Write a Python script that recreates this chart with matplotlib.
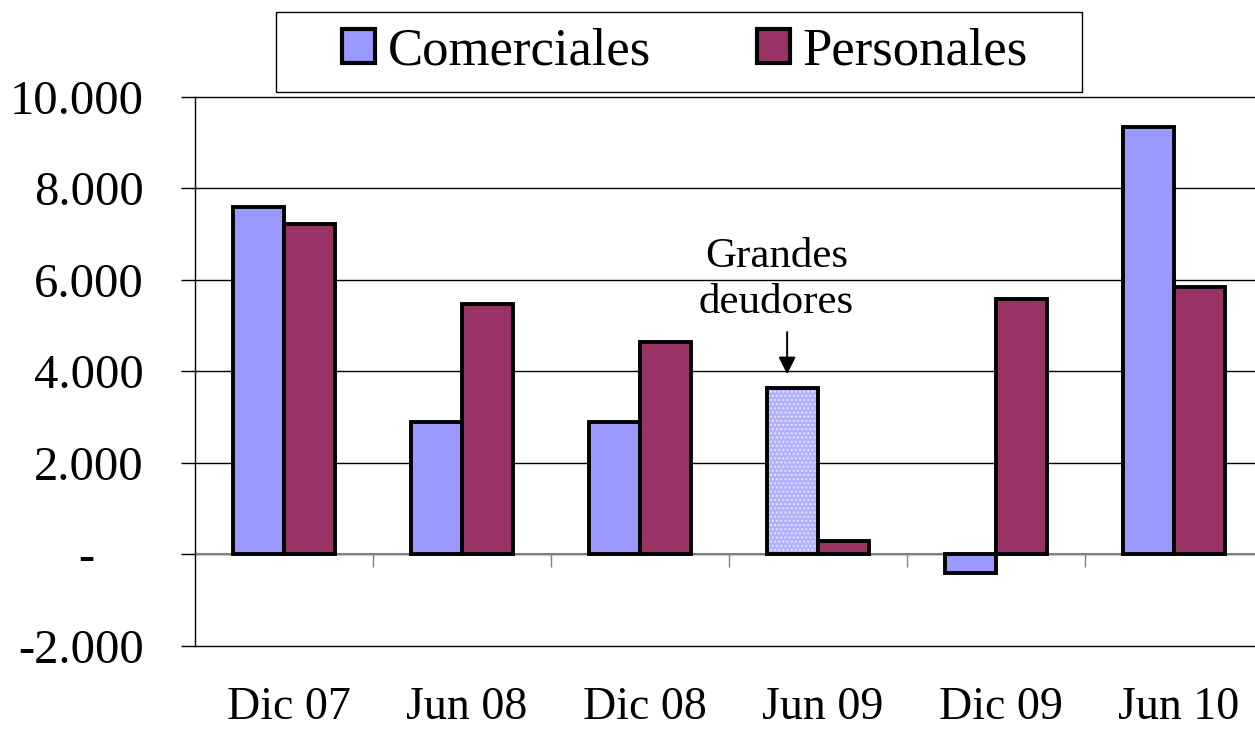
import matplotlib
matplotlib.use("Agg")
import matplotlib.pyplot as plt
import matplotlib.transforms as mtransforms
import numpy as np
from matplotlib.patches import Patch, Rectangle

# data
categories = ["Dic 07", "Jun 08", "Dic 08", "Jun 09", "Dic 09", "Jun 10"]
comerciales = [7600, 2900, 2900, 3640, -400, 9340]
personales = [7220, 5475, 4640, 300, 5580, 5850]
yticks = [-2000, 0, 2000, 4000, 6000, 8000, 10000]
ytick_labels = ["-2.000", "-    ", "2.000", "4.000", "6.000", "8.000", "10.000"]
highlight = 3  # "Grandes deudores" bar

COL_COM = "#9999FF"
COL_PER = "#993366"
FONT = "Liberation Serif"

plt.rcParams["font.family"] = FONT

fig = plt.figure(figsize=(12.55, 7.29), dpi=100)
ax = fig.add_axes([0.1554, 0.1139, 0.8446, 0.7531])

x = np.arange(len(categories))
w = 0.287

for i in range(len(categories)):
    if i == highlight:
        ax.bar(x[i] - w / 2, comerciales[i], w, color="#b0b0ff",
               hatch="....", edgecolor="#e8e8ff", linewidth=0, zorder=3)
        ax.bar(x[i] - w / 2, comerciales[i], w, fill=False,
               edgecolor="black", linewidth=2.8, zorder=4)
    else:
        ax.bar(x[i] - w / 2, comerciales[i], w, color=COL_COM,
               edgecolor="black", linewidth=2.8, zorder=3)
ax.bar(x + w / 2, personales, w, color=COL_PER, edgecolor="black",
       linewidth=2.8, zorder=3)

ax.set_ylim(-2000, 10000)
ax.set_xlim(-0.5, 5.455)
ax.set_yticks(yticks)
ax.set_yticklabels(ytick_labels)
ax.yaxis.grid(True, color="black", linewidth=1)
for gl in ax.get_ygridlines():
    gl.set_clip_on(False)
ax.set_axisbelow(True)
ax.axhline(0, color="#808080", linewidth=1.5, zorder=2)

# category separators below the zero line
bounds = x[1:] - 0.5
ax.vlines(bounds, -280, 0, color="#808080", linewidth=1, zorder=2)

ax.set_xticks(x)
ax.set_xticklabels(categories)
ax.tick_params(axis="x", length=0, pad=29, labelsize=33)
ax.tick_params(axis="y", length=10, width=1, pad=27, labelsize=35)
shift = mtransforms.ScaledTranslation(5 / 100, 0, fig.dpi_scale_trans)
for lbl in ax.get_xticklabels():
    lbl.set_transform(lbl.get_transform() + shift)

for s in ["top", "right", "bottom"]:
    ax.spines[s].set_visible(False)
ax.spines["left"].set_linewidth(1)

# annotation: text plus straight arrow
ax_x = x[highlight] - w / 2 - 0.03
ax.text(ax_x - 0.06, 5080, "Grandes\ndeudores", ha="center", va="bottom",
        fontsize=31, linespacing=1.25)
ax.annotate("", xy=(ax_x, 3880), xytext=(ax_x, 4920),
            arrowprops=dict(arrowstyle="-|>", color="black", lw=1.4,
                            mutation_scale=26))

handles = [Patch(facecolor=COL_COM, edgecolor="black", linewidth=3),
           Patch(facecolor=COL_PER, edgecolor="black", linewidth=3)]
leg = fig.legend(handles, ["Comerciales", "Personales"], ncol=2,
                 loc="center", bbox_to_anchor=(0.546, 0.929),
                 fontsize=38, frameon=False,
                 handlelength=0.62, handleheight=0.62, handletextpad=0.25,
                 columnspacing=2.0, borderpad=0.2, borderaxespad=0)

# legend frame as in the reference (wider than the entries)
fig.add_artist(Rectangle((276 / 1255, 1 - 92 / 729), 806 / 1255, 80 / 729,
                         transform=fig.transFigure, fill=False,
                         edgecolor="black", linewidth=1))

fig.savefig("out.png", dpi=100)
